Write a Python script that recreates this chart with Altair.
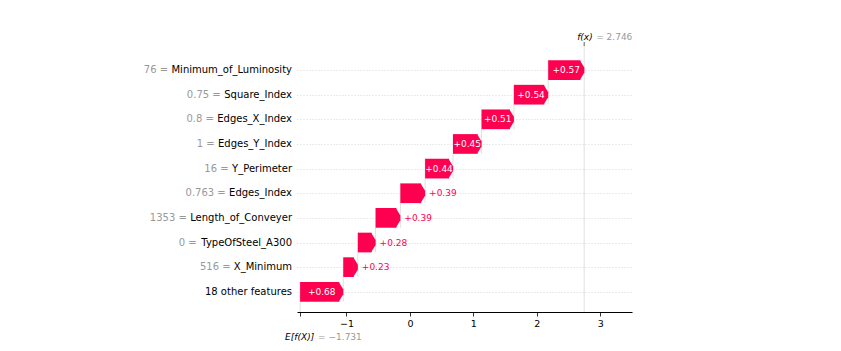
import altair as alt
import pandas as pd

# ---------------- data ----------------
features = ["Minimum_of_Luminosity", "Square_Index", "Edges_X_Index", "Edges_Y_Index",
            "Y_Perimeter", "Edges_Index", "Length_of_Conveyer", "TypeOfSteel_A300",
            "X_Minimum", "18 other features"]
feature_values = ["76", "0.75", "0.8", "1", "16", "0.763", "1353", "0", "516", ""]
shap_values = [0.57, 0.54, 0.51, 0.45, 0.44, 0.39, 0.39, 0.28, 0.23, 0.68]
base_value = -1.731
fx_value = 2.746
x_ticks = [-1, 0, 1, 2, 3]

# ---------------- layout / style ----------------
x_domain = [-1.78, 3.5]
y_domain = [-0.976, 9.82]
W, H = 335, 266
RED = "#ff0051"
FONT = "DejaVu Sans"
LABEL_SIZE = 10
LABEL_RIGHT = -5  # px, right edge of feature labels relative to plot left

# DejaVu Sans advance widths (units per em = 2048), used to place the grey value part
ADV = {" ": 651, "_": 1024, ".": 651, "=": 1716}
ADV.update({d: 1303 for d in "0123456789"})
ADV.update(dict(zip("ABCDEFGHIJKLMNOPQRSTUVWXYZ",
                    [1401, 1405, 1430, 1577, 1294, 1178, 1587, 1540, 604, 604, 1343, 1141, 1767,
                     1532, 1612, 1235, 1612, 1423, 1300, 1251, 1499, 1401, 2025, 1403, 1251, 1403])))
ADV.update(dict(zip("abcdefghijklmnopqrstuvwxyz",
                    [1255, 1300, 1126, 1300, 1260, 721, 1300, 1298, 569, 569, 1186, 569, 1995,
                     1298, 1253, 1300, 1300, 842, 1067, 803, 1298, 1212, 1675, 1212, 1212, 1075])))


def text_width(s, size):
    return sum(ADV.get(c, 1200) for c in s) / 2048.0 * size


n = len(features)
starts = [0.0] * n
ends = [0.0] * n
acc = base_value
for i in reversed(range(n)):
    starts[i] = acc
    acc += shap_values[i]
    ends[i] = acc

rows = list(range(n))
df = pd.DataFrame({
    "row": rows,
    "top": [r - 0.4 for r in rows],
    "bot": [r + 0.4 for r in rows],
    "start": starts,
    "end": ends,
    "mid": [(s + e) / 2 for s, e in zip(starts, ends)],
    "val": shap_values,
    "txt": ["+%.2f" % v for v in shap_values],
    "inside": [v >= 0.42 for v in shap_values],
    "name": features,
    "fv": [(f"{fv} =" if fv else "") for fv in feature_values],
    "fvx": [LABEL_RIGHT - text_width(" " + nm, LABEL_SIZE) for nm in features],
})

conn = pd.DataFrame({
    "x": starts,
    "y": [r - 0.4 for r in rows],
    "y2": [min(r + 1.4, y_domain[1]) for r in rows],
})
fxdf = pd.DataFrame({"x": [fx_value], "y": [y_domain[0]], "y2": [y_domain[1]],
                     "lab": ["f(x)"], "val": ["= %.3f" % fx_value]})
basedf = pd.DataFrame({"x": [base_value], "lab": ["E[f(X)]"],
                       "val": ["= " + ("%.3f" % base_value).replace("-", "\u2212")]})

xs = alt.Scale(domain=x_domain, nice=False, zero=False)
ys = alt.Scale(domain=y_domain, nice=False, zero=False, reverse=True)

tick_vals = [base_value] + x_ticks
x_axis = alt.Axis(values=tick_vals, title=None, grid=False, domainColor="black",
                  tickColor="black", tickSize=4, labelFontSize=9.5, labelColor="black",
                  labelFont=FONT, labelPadding=2, domainWidth=1, tickWidth=0.8,
                  labelExpr="abs(datum.value - (%s)) < 0.01 ? '' : replace(datum.label, '-', '\u2212')" % base_value)
y_axis = alt.Axis(values=rows, grid=True, gridDash=[1, 2], gridColor="#cccccc", gridWidth=0.8,
                  labels=False, ticks=False, domain=False, title=None)


def X(field):
    return alt.X(field, scale=xs, axis=x_axis)


def Y(field):
    return alt.Y(field, scale=ys, axis=y_axis)


grid = alt.Chart(df).mark_rule(opacity=0).encode(x=X("start:Q"), y=Y("row:Q"))

connectors = alt.Chart(conn).mark_rule(color="#e0e0e0", strokeWidth=1).encode(
    x=X("x:Q"), y=Y("y:Q"), y2="y2:Q")

fxline = alt.Chart(fxdf).mark_rule(color="#e0e0e0", strokeWidth=1).encode(
    x=X("x:Q"), y=Y("y:Q"), y2="y2:Q")
fxtick = alt.Chart(fxdf).mark_rule(color="#333333", strokeWidth=0.8).encode(
    x=X("x:Q"), y=alt.value(-4), y2=alt.value(0))
fxlab = alt.Chart(fxdf).mark_text(align="left", baseline="middle", dx=-7, fontSize=9,
                                  font=FONT, fontStyle="italic", color="black").encode(
    x=X("x:Q"), y=alt.value(-9), text="lab:N")
fxval = alt.Chart(fxdf).mark_text(align="left", baseline="middle", dx=12, fontSize=9,
                                  font=FONT, color="#999999").encode(
    x=X("x:Q"), y=alt.value(-9), text="val:N")

baselab = alt.Chart(basedf).mark_text(align="left", baseline="middle", dx=-15, fontSize=9,
                                      font=FONT, fontStyle="italic", color="black").encode(
    x=X("x:Q"), y=alt.value(H + 25), text="lab:N")
baseval = alt.Chart(basedf).mark_text(align="left", baseline="middle", dx=18, fontSize=9,
                                      font=FONT, color="#999999").encode(
    x=X("x:Q"), y=alt.value(H + 25), text="val:N")

bars = alt.Chart(df).mark_bar(color=RED, x2Offset=-4).encode(
    x=X("start:Q"), x2="end:Q", y=Y("top:Q"), y2="bot:Q")
heads = alt.Chart(df).mark_point(shape="M-0.46,-1L0,-0.25L0,0.25L-0.46,1Z", size=388,
                                 filled=True, color=RED, opacity=1, strokeWidth=0).encode(
    x=X("end:Q"), y=Y("row:Q"))

in_txt = alt.Chart(df).transform_filter("datum.inside").mark_text(
    align="center", baseline="middle", fontSize=9, font=FONT, color="white").encode(
    x=X("mid:Q"), y=Y("row:Q"), text="txt:N")
out_txt = alt.Chart(df).transform_filter("!datum.inside").mark_text(
    align="left", baseline="middle", dx=4, fontSize=9, font=FONT, color=RED).encode(
    x=X("end:Q"), y=Y("row:Q"), text="txt:N")

lab_name = alt.Chart(df).mark_text(align="right", baseline="middle", fontSize=LABEL_SIZE,
                                   font=FONT, color="black").encode(
    x=alt.value(LABEL_RIGHT), y=Y("row:Q"), text="name:N")
lab_val = alt.Chart(df).transform_filter("datum.fv != ''").mark_text(
    align="right", baseline="middle", fontSize=LABEL_SIZE, font=FONT, color="#999999").encode(
    x=alt.X("fvx:Q", scale=None, axis=None), y=Y("row:Q"), text="fv:N")

chart = alt.layer(
    grid, connectors, fxline, bars, heads, in_txt, out_txt,
    fxtick, fxlab, fxval, baselab, baseval, lab_name, lab_val,
).properties(
    width=W, height=H,
    autosize=alt.AutoSizeParams(type="none"),
    padding={"left": 297, "top": 46, "right": 841 - 297 - W, "bottom": 351 - 46 - H},
    background="white",
).configure(font=FONT, view=alt.ViewConfig(stroke=None))

chart.save("out.html", embed_options={"renderer": "svg", "actions": False})
